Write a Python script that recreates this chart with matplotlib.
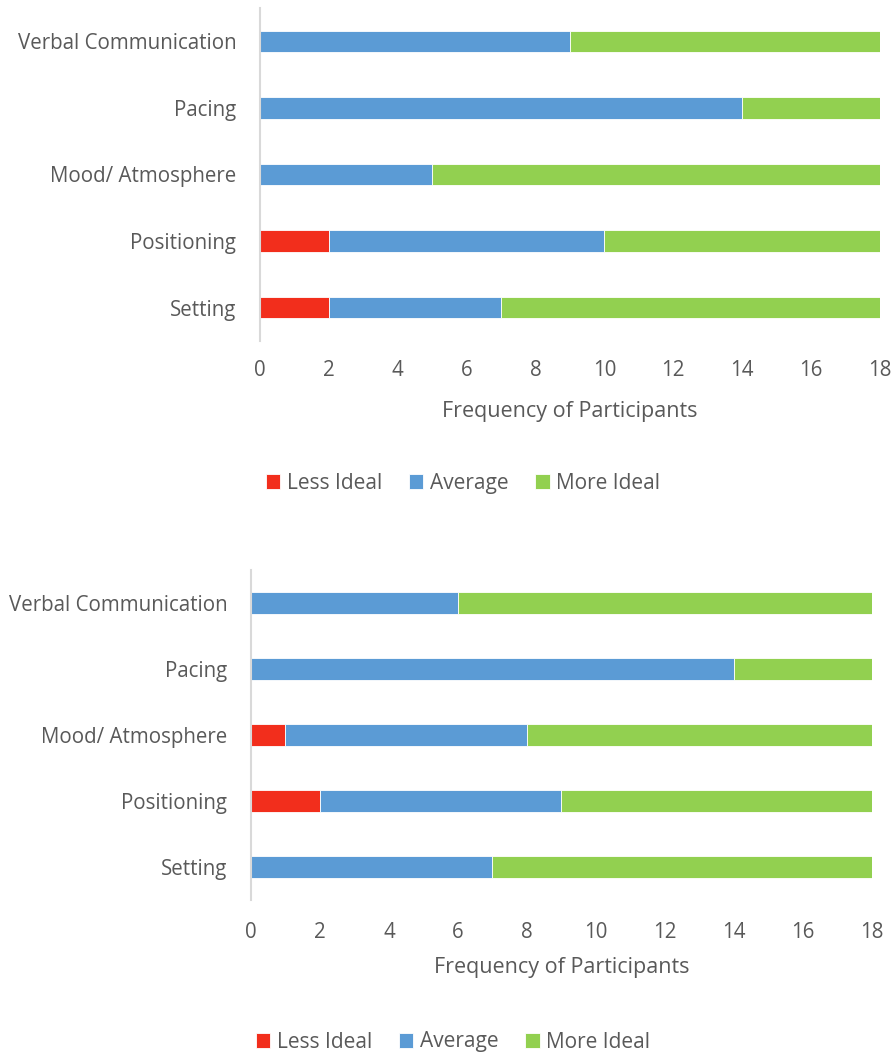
import matplotlib
matplotlib.use("Agg")
import matplotlib.pyplot as plt
import numpy as np

categories = ["Verbal Communication", "Pacing", "Mood/ Atmosphere", "Positioning", "Setting"]
series_names = ["Less Ideal", "Average", "More Ideal"]
colors = ["#F22E1C", "#5B9BD5", "#92D050"]

top_less = [0, 0, 0, 2, 2]
top_avg = [9, 14, 5, 8, 5]
top_more = [9, 4, 13, 8, 11]

bot_less = [0, 0, 1, 2, 0]
bot_avg = [6, 14, 7, 7, 7]
bot_more = [12, 4, 10, 9, 11]

xticks = [0, 2, 4, 6, 8, 10, 12, 14, 16, 18]
xlabel = "Frequency of Participants"

plt.rcParams['font.family'] = ['Open Sans', 'DejaVu Sans']
txt = "#595959"

fig = plt.figure(figsize=(8.95, 10.53), dpi=100)

def draw(rect, less, avg, more, legend_y, legend_x, xpad, lpad):
    ax = fig.add_axes(rect)
    y = np.arange(len(categories))
    left = np.zeros(len(categories))
    handles = []
    for vals, c, n in zip([less, avg, more], colors, series_names):
        v = np.array(vals, dtype=float)
        h = ax.barh(y, v, left=left, height=0.32, color=c, edgecolor="white", linewidth=0.6, label=n)
        handles.append(h)
        left += v
    ax.set_ylim(len(categories) - 0.5, -0.5)
    ax.set_xlim(0, 18)
    ax.set_xticks(xticks)
    ax.set_yticks(y)
    ax.set_yticklabels(categories)
    ax.tick_params(length=0, labelsize=14.8, colors=txt)
    ax.tick_params(axis='x', pad=xpad)
    ax.tick_params(axis='y', pad=17)
    for s in ["top", "right", "bottom"]:
        ax.spines[s].set_visible(False)
    ax.spines["left"].set_color("#D9D9D9")
    ax.spines["left"].set_linewidth(1.5)
    ax.set_xlabel(xlabel, fontsize=15.5, color=txt, labelpad=lpad)
    fig.legend(handles=handles, labels=series_names, loc="center", bbox_to_anchor=(legend_x, legend_y),
               ncol=3, frameon=False, fontsize=15, handlelength=0.7, handleheight=0.7,
               handletextpad=0.3, columnspacing=1.3, labelcolor=txt)
    return ax

draw([0.2905, 0.6762, 0.6927, 0.3162], top_less, top_avg, top_more, 1 - 483/1053, 463/895, 14, 14)
draw([0.2804, 0.1453, 0.6939, 0.3134], bot_less, bot_avg, bot_more, 1 - 1042/1053, 453/895, 16, 10)

fig.savefig("out.png", dpi=100)
